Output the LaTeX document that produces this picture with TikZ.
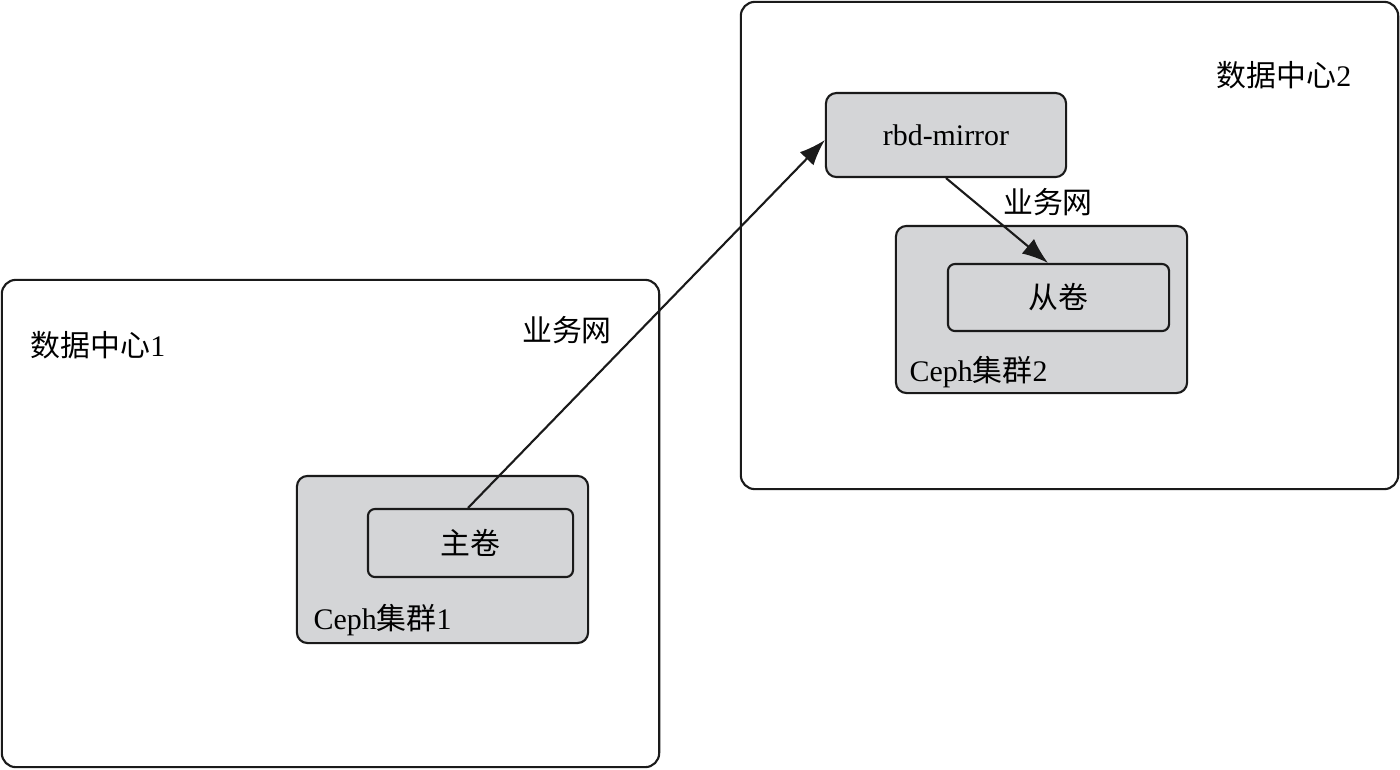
\documentclass[tikz,border=0pt]{standalone}
\usepackage{fontspec}
\setmainfont{Liberation Serif}
\newfontfamily\cjk{Noto Sans CJK SC}
\usepackage{tikz}
\usetikzlibrary{positioning,arrows.meta}
\definecolor{dcink}{HTML}{1A1A1A}
\definecolor{cephgray}{HTML}{D4D5D7}
\tikzset{
  center/.style ={draw=dcink,line width=0.6pt,rounded corners=4pt,fill=white,inner sep=0pt},
  cluster/.style={draw=dcink,line width=0.6pt,rounded corners=3pt,fill=cephgray,inner sep=0pt},
  vol/.style    ={cluster,rounded corners=2pt,font=\fontsize{8.5}{10}\selectfont\cjk},
  lbl/.style    ={font=\fontsize{8.5}{10}\selectfont,inner sep=0pt},
  arr/.style    ={-{Latex[length=2.6mm,width=1.9mm]},line width=0.6pt,draw=dcink},
}
\begin{document}
\begin{tikzpicture}[x=0.01cm,y=-0.01cm]
  \useasboundingbox (0,0) rectangle (1400,769);

  % data centre 1
  \node[center, minimum width=6.57cm, minimum height=4.87cm] (dc1) at (330.5,523.5) {};
  \node[lbl] (dc1name) at (98,345) {{\cjk 数据中心}1};
  \node[cluster, minimum width=2.91cm, minimum height=1.67cm] (ceph1) at (442.5,559.5) {};
  \node[vol, minimum width=2.05cm, minimum height=0.68cm] (master) at (470.5,543) {主卷};
  \node[lbl, anchor=west] (ceph1name) at (313,620) {Ceph{\cjk 集群}1};
  \node[lbl] (net1) at (567,330) {\cjk 业务网};

  % data centre 2
  \node[center, minimum width=6.57cm, minimum height=4.87cm] (dc2) at (1069.5,245.5) {};
  \node[lbl] (dc2name) at (1284,75) {{\cjk 数据中心}2};
  \node[cluster, minimum width=2.40cm, minimum height=0.84cm, font=\fontsize{8.5}{10}\selectfont] (rbd) at (946,135) {rbd-mirror};
  \node[cluster, minimum width=2.91cm, minimum height=1.67cm] (ceph2) at (1041.5,309.5) {};
  \node[vol, minimum width=2.21cm, minimum height=0.67cm] (slave) at (1058.5,297.5) {从卷};
  \node[lbl, anchor=west] (ceph2name) at (909,372) {Ceph{\cjk 集群}2};
  \node[lbl] (net2) at (1048,202) {\cjk 业务网};

  \draw[arr] ([xshift=-0.025cm]master.north) -- ([yshift=-0.05cm]rbd.west);
  \draw[arr] (rbd.south) -- ([xshift=-0.105cm]slave.north);
\end{tikzpicture}
\end{document}
